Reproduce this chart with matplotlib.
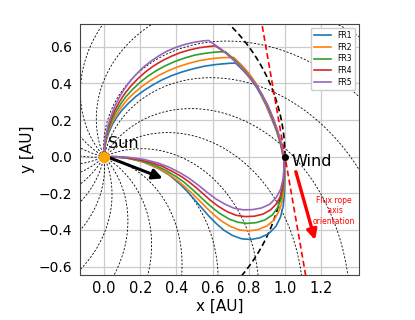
import numpy as np
import matplotlib
matplotlib.use("Agg")
import matplotlib.pyplot as plt

# --- flux rope cross sections, path: Sun -> top -> Wind -> bottom -> Sun
fr1_x = [0.0, 0.003, 0.011, 0.026, 0.045, 0.07, 0.1, 0.136, 0.176, 0.22, 0.268, 0.32, 0.375,
         0.433, 0.494, 0.556, 0.62, 0.685, 0.726,
         0.77, 0.81, 0.845, 0.87, 0.895, 0.925, 0.953, 0.975, 0.99,
         0.998, 0.999, 0.997, 0.99, 0.975, 0.95, 0.91, 0.86, 0.81, 0.76, 0.71, 0.66,
         0.62, 0.58, 0.54, 0.5, 0.46, 0.42, 0.36, 0.3, 0.22, 0.14, 0.06, 0.0]
fr1_y = [0.0, 0.045, 0.089, 0.132, 0.175, 0.216, 0.256, 0.293, 0.329, 0.361, 0.391, 0.419, 0.443,
         0.463, 0.48, 0.494, 0.503, 0.509, 0.511,
         0.47, 0.425, 0.375, 0.33, 0.28, 0.21, 0.14, 0.07, 0.0,
         -0.05, -0.12, -0.2, -0.27, -0.33, -0.38, -0.42, -0.443, -0.452, -0.448, -0.43, -0.4,
         -0.365, -0.325, -0.28, -0.235, -0.19, -0.15, -0.1, -0.065, -0.03, -0.01, -0.002, 0.0]

fr2_x = [0.0, 0.003, 0.011, 0.024, 0.043, 0.067, 0.095, 0.128, 0.166, 0.208, 0.254, 0.303, 0.355,
         0.41, 0.467, 0.526, 0.587, 0.648, 0.716,
         0.76, 0.8, 0.84, 0.868, 0.898, 0.928, 0.955, 0.976, 0.991,
         0.997, 0.996, 0.992, 0.983, 0.965, 0.94, 0.9, 0.85, 0.8, 0.75, 0.7, 0.65,
         0.61, 0.57, 0.53, 0.49, 0.45, 0.41, 0.35, 0.29, 0.21, 0.13, 0.06, 0.0]
fr2_y = [0.0, 0.047, 0.094, 0.14, 0.185, 0.229, 0.271, 0.311, 0.348, 0.383, 0.415, 0.444, 0.469,
         0.491, 0.509, 0.524, 0.534, 0.54, 0.542,
         0.5, 0.455, 0.4, 0.34, 0.28, 0.21, 0.14, 0.07, 0.0,
         -0.05, -0.12, -0.19, -0.25, -0.3, -0.345, -0.378, -0.398, -0.405, -0.4, -0.382, -0.352,
         -0.32, -0.283, -0.243, -0.204, -0.167, -0.133, -0.09, -0.058, -0.026, -0.008, -0.001, 0.0]

fr3_x = [0.0, 0.003, 0.01, 0.023, 0.041, 0.063, 0.091, 0.122, 0.158, 0.198, 0.241, 0.288, 0.338,
         0.39, 0.444, 0.5, 0.558, 0.616, 0.67,
         0.72, 0.77, 0.82, 0.86, 0.9, 0.931, 0.957, 0.977, 0.992,
         0.996, 0.994, 0.988, 0.977, 0.958, 0.93, 0.89, 0.84, 0.79, 0.74, 0.69, 0.64,
         0.6, 0.56, 0.52, 0.48, 0.44, 0.4, 0.34, 0.28, 0.2, 0.12, 0.06, 0.0]
fr3_y = [0.0, 0.05, 0.1, 0.148, 0.196, 0.242, 0.287, 0.329, 0.368, 0.405, 0.439, 0.469, 0.496,
         0.519, 0.538, 0.554, 0.564, 0.571, 0.573,
         0.53, 0.48, 0.42, 0.36, 0.285, 0.21, 0.14, 0.07, 0.0,
         -0.05, -0.12, -0.18, -0.235, -0.28, -0.318, -0.345, -0.36, -0.364, -0.358, -0.34, -0.31,
         -0.28, -0.245, -0.208, -0.172, -0.138, -0.11, -0.074, -0.047, -0.021, -0.006, -0.001, 0.0]

fr4_x = [0.0, 0.002, 0.01, 0.022, 0.039, 0.06, 0.086, 0.116, 0.15, 0.188, 0.229, 0.273, 0.32,
         0.37, 0.421, 0.474, 0.529, 0.584, 0.615,
         0.68, 0.74, 0.79, 0.835, 0.872, 0.904, 0.933, 0.959, 0.978, 0.992,
         0.995, 0.992, 0.985, 0.972, 0.95, 0.92, 0.88, 0.83, 0.78, 0.73, 0.68, 0.63,
         0.59, 0.55, 0.51, 0.47, 0.43, 0.38, 0.32, 0.26, 0.19, 0.12, 0.06, 0.0]
fr4_y = [0.0, 0.053, 0.105, 0.156, 0.207, 0.255, 0.302, 0.347, 0.388, 0.427, 0.463, 0.495, 0.523,
         0.547, 0.568, 0.583, 0.595, 0.602, 0.605,
         0.56, 0.505, 0.45, 0.395, 0.34, 0.28, 0.21, 0.14, 0.07, 0.0,
         -0.05, -0.12, -0.175, -0.222, -0.26, -0.29, -0.313, -0.325, -0.327, -0.32, -0.3, -0.27,
         -0.24, -0.205, -0.17, -0.138, -0.11, -0.082, -0.052, -0.032, -0.016, -0.005, 0.0, 0.0]

fr5_x = [0.0, 0.002, 0.009, 0.02, 0.036, 0.056, 0.08, 0.108, 0.14, 0.176, 0.214, 0.256, 0.3,
         0.346, 0.395, 0.445, 0.496, 0.548, 0.578,
         0.65, 0.72, 0.78, 0.83, 0.87, 0.905, 0.935, 0.96, 0.98, 0.993,
         0.995, 0.99, 0.975, 0.95, 0.915, 0.87, 0.82, 0.77, 0.72, 0.67, 0.62,
         0.57, 0.52, 0.47, 0.42, 0.36, 0.3, 0.22, 0.14, 0.06, 0.0]
fr5_y = [0.0, 0.055, 0.11, 0.164, 0.217, 0.268, 0.317, 0.364, 0.408, 0.448, 0.486, 0.519, 0.549,
         0.575, 0.596, 0.612, 0.624, 0.632, 0.634,
         0.585, 0.525, 0.465, 0.405, 0.345, 0.28, 0.21, 0.14, 0.07, 0.0,
         -0.05, -0.12, -0.18, -0.225, -0.26, -0.28, -0.289, -0.29, -0.282, -0.26, -0.232,
         -0.195, -0.155, -0.118, -0.088, -0.058, -0.035, -0.015, -0.004, 0.0, 0.0]

fr_labels = ["FR1", "FR2", "FR3", "FR4", "FR5"]
fr_colors = ["#1f77b4", "#ff7f0e", "#2ca02c", "#d62728", "#9467bd"]

# --- background: Parker spirals and 1 AU orbit
spiral_a = 1.0                      # AU per radian (v_sw / Omega_sun)
spiral_phi0_deg = np.arange(6, 366, 18)
orbit_r = 1.0

sun_pos = (0.0, 0.0)
wind_pos = (1.0, 0.0)
axis_angle_deg = -80.0              # flux rope axis orientation in the ecliptic
radial_arrow = [(0.033, -0.007), (0.324, -0.118)]
axis_arrow = [(1.06, -0.082), (1.166, -0.455)]

fig = plt.figure(figsize=(4.15, 3.2), dpi=100)
ax = fig.add_axes([0.193, 0.141, 0.672, 0.784])

r = np.linspace(0, 2.2, 400)
for p0 in np.deg2rad(spiral_phi0_deg):
    phi = p0 - r / spiral_a
    ax.plot(r * np.cos(phi), r * np.sin(phi), "--", color="k", lw=0.6, dashes=(2.5, 2.0))

t = np.linspace(0, 2 * np.pi, 400)
ax.plot(orbit_r * np.cos(t), orbit_r * np.sin(t), "--", color="k", lw=1.2, dashes=(3.5, 2.0))

ang = np.deg2rad(axis_angle_deg)
s = np.array([-1.0, 1.0])
ax.plot(wind_pos[0] + s * np.cos(ang), wind_pos[1] + s * np.sin(ang), "--",
        color="red", lw=1.2, dashes=(3.5, 2.0))

for xs, ys, lab, c in zip([fr1_x, fr2_x, fr3_x, fr4_x, fr5_x],
                          [fr1_y, fr2_y, fr3_y, fr4_y, fr5_y], fr_labels, fr_colors):
    ax.plot(xs, ys, color=c, lw=1.2, label=lab)

ax.annotate("", xy=radial_arrow[1], xytext=radial_arrow[0],
            arrowprops=dict(arrowstyle="-|>,head_length=0.6,head_width=0.3", color="k",
                            lw=2.2, shrinkA=0, shrinkB=0), zorder=5)
ax.annotate("", xy=axis_arrow[1], xytext=axis_arrow[0],
            arrowprops=dict(arrowstyle="-|>,head_length=0.6,head_width=0.3", color="red",
                            lw=2.4, shrinkA=0, shrinkB=0), zorder=5)

ax.plot(*sun_pos, "o", color="orange", ms=7, zorder=6)
ax.plot(*wind_pos, "o", color="k", ms=4, zorder=6)
ax.text(0.022, 0.049, "Sun", fontsize=11.5)
ax.text(1.035, -0.05, "Wind", fontsize=11.5)
ax.text(1.27, -0.296, "Flux rope\n axis\norientation", color="red", fontsize=5.5,
        ha="center", va="center", multialignment="center")

ax.set_xlim(-0.133, 1.409)
ax.set_ylim(-0.645, 0.724)
ax.set_xticks([0.0, 0.2, 0.4, 0.6, 0.8, 1.0, 1.2])
ax.set_yticks([-0.6, -0.4, -0.2, 0.0, 0.2, 0.4, 0.6])
ax.tick_params(length=0)
ax.tick_params(axis="x", labelsize=10.5, pad=4.5)
ax.tick_params(axis="y", labelsize=10, pad=6)
ax.grid(True, color="#cccccc", lw=0.9)
ax.set_axisbelow(True)
for sp in ax.spines.values():
    sp.set_color("#444444")
ax.set_xlabel("x [AU]", fontsize=11, labelpad=2)
ax.set_ylabel("y [AU]", fontsize=11, labelpad=2)
ax.legend(loc="upper right", fontsize=5.5, framealpha=1.0, labelspacing=0.35,
          handlelength=2.3)

fig.savefig("out.png", dpi=100)
